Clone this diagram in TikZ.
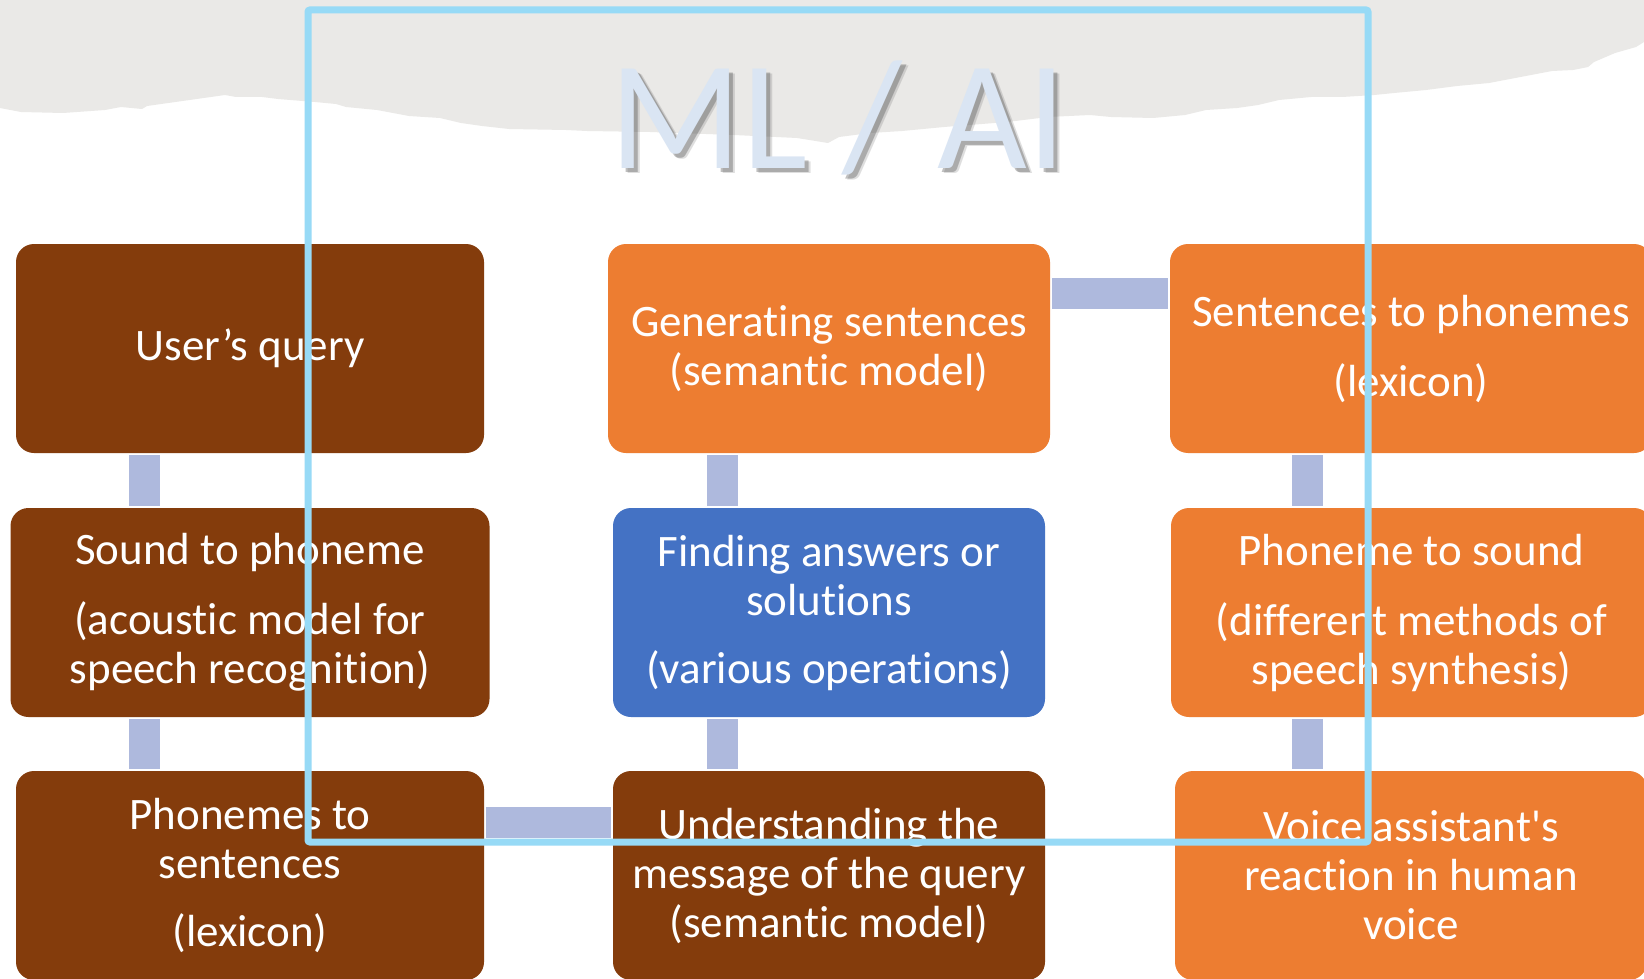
\documentclass[tikz,border=0pt]{standalone}
\usepackage{fontspec}
\setmainfont{Carlito}[Ligatures={TeX,CommonOff}]
\usetikzlibrary{calc}

\definecolor{paper}{HTML}{EAE9E7}
\definecolor{rust}{HTML}{843C0C}
\definecolor{tangerine}{HTML}{ED7D31}
\definecolor{azure}{HTML}{4472C4}
\definecolor{linkblue}{HTML}{AEB9DD}
\definecolor{framesky}{HTML}{97DAF6}
\definecolor{titleice}{HTML}{DAE5F3}

\begin{document}
\begin{tikzpicture}[x=1pt,y=-1pt,
  stage/.style={rounded corners=18pt, inner sep=0pt, align=center, text=white,
    font=\fontsize{45}{49}\selectfont, minimum height=209pt},
  dark/.style={stage, fill=rust},
  warm/.style={stage, fill=tangerine},
  cool/.style={stage, fill=azure},
  link/.style={draw=linkblue, line width=31pt, shorten <=2pt, shorten >=2pt},
  frame/.style={draw=framesky, line width=7pt, rounded corners=2pt},
  headline/.style={anchor=base, inner sep=0pt, font=\fontsize{155}{155}\selectfont}]

\useasboundingbox (0,0) rectangle (1644,979);
\clip (0,0) rectangle (1644,979);
\fill[white] (0,0) rectangle (1644,979);

% torn grey strip across the top
\fill[paper] (0,0) -- (1644,0) -- (1644,42) -- (1636,47) -- (1615,53) -- (1594,62)
  -- (1588,67) -- (1573,70) -- (1552,71) -- (1531,75) -- (1510,79) -- (1489,83)
  -- (1457,86) -- (1426,90) -- (1394,93) -- (1374,95) -- (1342,97) -- (1311,97)
  -- (1279,100) -- (1258,105) -- (1237,108) -- (1206,110) -- (1185,115)
  -- (1153,118) -- (1111,117) -- (1090,115) -- (1048,117) -- (1007,122)
  -- (944,127) -- (902,131) -- (870,133) -- (839,137) -- (828,143) -- (797,138)
  -- (734,135) -- (650,132) -- (587,131) -- (566,130) -- (509,129) -- (482,126)
  -- (461,123) -- (440,118) -- (409,116) -- (377,110) -- (346,107) -- (336,104)
  -- (315,102) -- (278,99) -- (262,97) -- (236,97) -- (225,95) -- (147,106)
  -- (142,109) -- (121,107) -- (105,110) -- (63,113) -- (21,112) -- (0,108) -- cycle;

% heading with a soft drop shadow
\node[headline, text=black!70, opacity=0.18] (shadowB) at (844,174) {ML / AI};
\node[headline, text=black!70, opacity=0.35] (shadowA) at (842,172) {ML / AI};
\node[headline, text=titleice] (title) at (838,168) {ML / AI};

% process steps
\node[dark, minimum width=468pt] (query) at (250,348.5) {User’s query};
\node[dark, minimum width=479pt] (sound) at (250,612.5)
  {Sound to phoneme\\[21pt](acoustic model for\\speech recognition)};
\node[dark, minimum width=468pt] (phon) at (250,875.5)
  {Phonemes to\\sentences\\[19pt](lexicon)};

\node[warm, minimum width=442pt] (gen) at (829,348.5)
  {Generating sentences\\(semantic model)};
\node[cool, minimum width=432pt] (find) at (829,612.5)
  {Finding answers or\\solutions\\[19pt](various operations)};
\node[dark, minimum width=432pt] (understand) at (829,875.5)
  {Understanding the\\message of the query\\(semantic model)};

\node[warm, minimum width=482pt] (s2p) at (1411,348.5)
  {Sentences to phonemes\\[21pt](lexicon)};
\node[warm, minimum width=481pt] (p2s) at (1411.5,612.5)
  {Phoneme to sound\\[21pt](different methods of\\speech synthesis)};
\node[warm, minimum width=472pt] (voice) at (1411,875.5)
  {Voice assistant\textquotesingle s\\reaction in human\\voice};

% connector lanes
\coordinate (c1) at (144.5,0);
\coordinate (c2) at (722.5,0);
\coordinate (c3) at (1307.5,0);
\coordinate (r1) at (0,293.5);
\coordinate (r3) at (0,822.5);

\draw[link] (query.south -| c1) -- (sound.north -| c1);
\draw[link] (sound.south -| c1) -- (phon.north -| c1);
\draw[link] (phon.east |- r3) -- (understand.west |- r3);
\draw[link] (understand.north -| c2) -- (find.south -| c2);
\draw[link] (find.north -| c2) -- (gen.south -| c2);
\draw[link] (gen.east |- r1) -- (s2p.west |- r1);
\draw[link] (s2p.south -| c3) -- (p2s.north -| c3);
\draw[link] (p2s.south -| c3) -- (voice.north -| c3);

% outline frame on top
\draw[frame] (308,10) rectangle (1368,842);
\end{tikzpicture}
\end{document}
